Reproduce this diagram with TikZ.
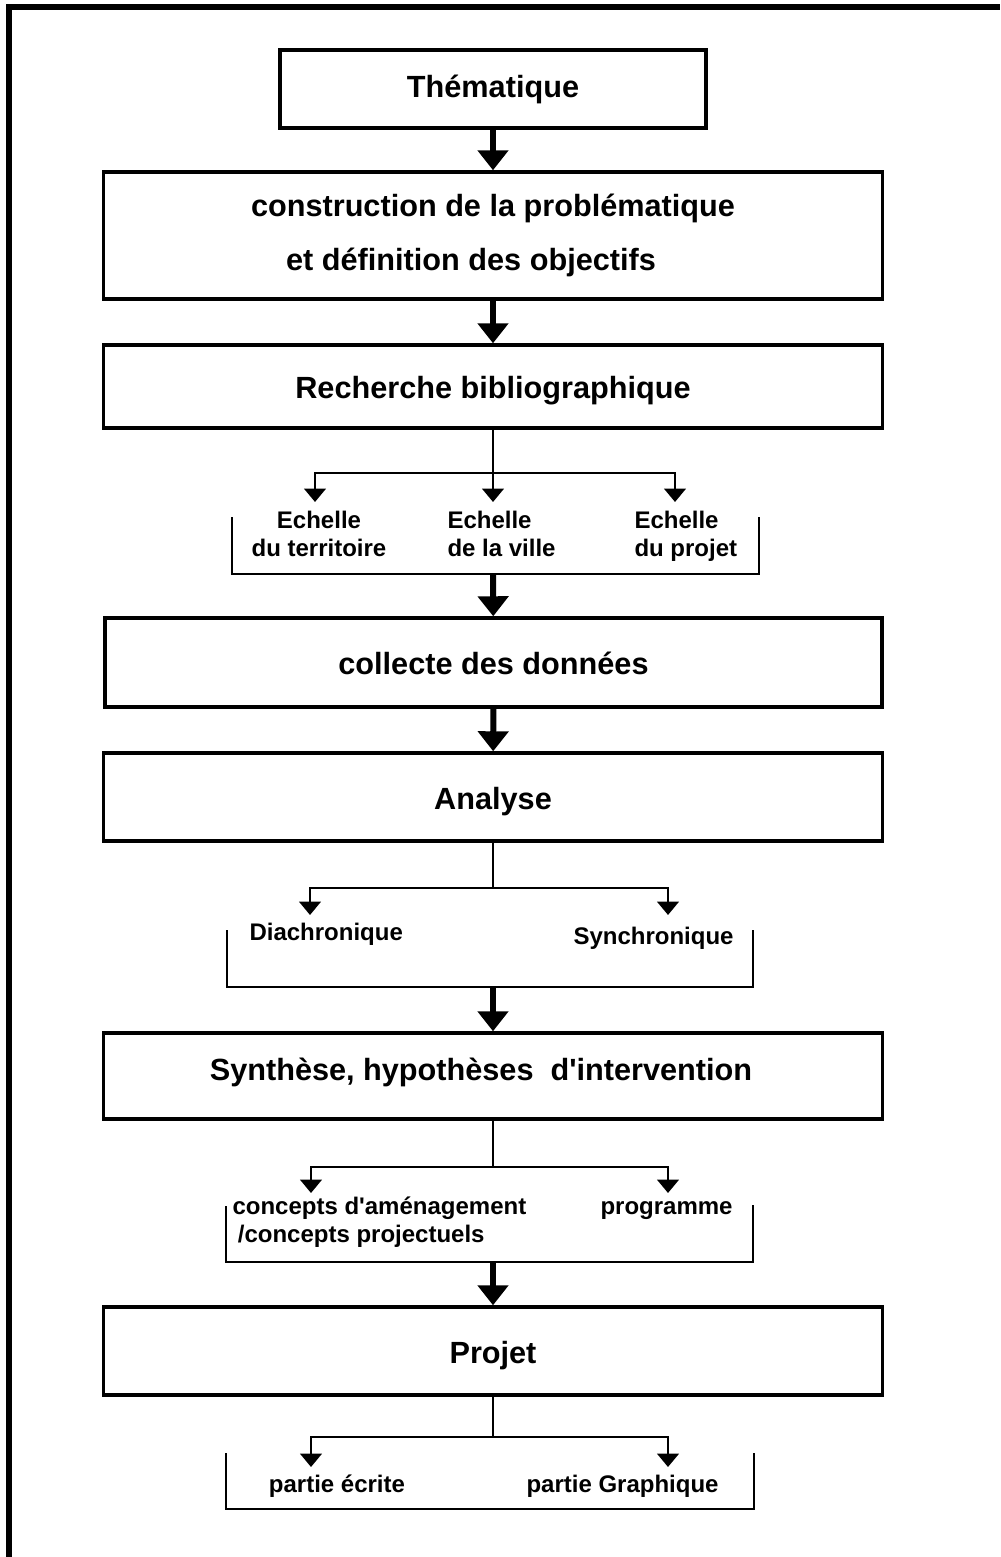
\documentclass[tikz,border=0pt]{standalone}
\usepackage{fontspec}
\setmainfont{Liberation Sans}
\usetikzlibrary{arrows.meta}

\tikzset{every picture/.style={line width=0.75pt}}

\begin{document}
\begin{tikzpicture}[x=0.75pt,y=0.75pt,yscale=-1,xscale=1,scale=1, every node/.style={scale=1},
  stage/.style={draw, line width=2.6pt, minimum width=584.25pt, inner sep=0pt, align=center, font=\fontsize{23}{40}\selectfont\bfseries},
  oneline/.style={text height=20pt, text depth=2pt},
  sub/.style={inner sep=0pt, font=\fontsize{18}{21}\selectfont\bfseries},
  flow/.style={line width=4.5pt, -{Triangle[length=15pt,width=22.5pt]}},
  branch/.style={line width=2.2pt, -{Triangle[length=10pt,width=16pt]}},
  bracket/.style={line width=2pt}]
\useasboundingbox (0,0) rectangle (1000,1557);

%Straight Lines: frame
\draw [line width=4.5pt]  (9,1557) -- (9,7) -- (1000,7) ;

%Shape: Rectangle
\node [stage, text height=17pt, text depth=5pt, minimum width=319.5pt, minimum height=58.5pt] (theme) at (493,89) {Thématique};
%Shape: Rectangle
\node [stage, minimum height=95.25pt] (prob) at (493,235.5) {construction de la problématique\\et définition des objectifs\hspace*{33pt}};
%Shape: Rectangle
\node [stage, oneline, minimum height=62.25pt] (biblio) at (493,386.5) {Recherche bibliographique};
%Shape: Rectangle
\node [stage, oneline, minimum width=582.75pt, minimum height=66.75pt] (collecte) at (493.5,662.5) {collecte des données};
%Shape: Rectangle
\node [stage, oneline, minimum height=66pt] (analyse) at (493,797) {Analyse};
%Shape: Rectangle
\node [stage, text height=14pt, text depth=8pt, minimum height=64.5pt] (synth) at (493,1076) {Synthèse, hypothèses~ d\textquotesingle intervention\hspace*{18pt}};
%Shape: Rectangle
\node [stage, oneline, minimum height=66pt] (projet) at (493,1351) {Projet};

%Straight Lines
\draw [flow]  (theme) -- (prob) ;
\draw [flow]  (prob) -- (biblio) ;

% Text Node
\node [sub, align=center, anchor=north] (terr) at (319,511) {Echelle\\du territoire};
% Text Node
\node [sub, align=left, anchor=north west] (ville) at (447,511) {Echelle\\de la ville};
% Text Node
\node [sub, align=left, anchor=north west] (echproj) at (634,511) {Echelle\\du projet};

\coordinate (j1) at (493,473);
\coordinate (a11) at (315,502);
\coordinate (a12) at (493,502);
\coordinate (a13) at (675,502);
\coordinate (g1) at (493,574);
%Straight Lines
\draw [line width=2.2pt]  (biblio) -- (j1) ;
\draw [branch]  (j1) -| (a11) ;
\draw [branch]  (j1) -- (a12) ;
\draw [branch]  (j1) -| (a13) ;
\draw [bracket]  (232,517) |- (759,574) -- (759,517) ;
\draw [flow]  (g1) -- (collecte) ;

\draw [flow]  (collecte) -- (analyse) ;

% Text Node
\node [sub, anchor=west] (diachro) at (249,934) {Diachronique};
% Text Node
\node [sub, anchor=west] (synchro) at (573,938) {Synchronique};

\coordinate (j2) at (493,888);
\coordinate (a21) at (310,915);
\coordinate (a22) at (668,915);
\coordinate (g2) at (493,987);
%Straight Lines
\draw [line width=2.2pt]  (analyse) -- (j2) ;
\draw [branch]  (j2) -| (a21) ;
\draw [branch]  (j2) -| (a22) ;
\draw [bracket]  (227,930) |- (753,987) -- (753,930) ;
\draw [flow]  (g2) -- (synth) ;

% Text Node
\node [sub, align=left, anchor=west] (concepts) at (232,1222) {concepts d\textquotesingle aménagement\\\hspace{4pt}/concepts projectuels};
% Text Node
\node [sub, anchor=west] (progr) at (600,1211) {programme};

\coordinate (j3) at (493,1167);
\coordinate (a31) at (311,1193);
\coordinate (a32) at (668,1193);
\coordinate (g3) at (493,1262);
%Straight Lines
\draw [line width=2.2pt]  (synth) -- (j3) ;
\draw [branch]  (j3) -| (a31) ;
\draw [branch]  (j3) -| (a32) ;
\draw [bracket]  (226,1206) |- (753,1262) -- (753,1205) ;
\draw [flow]  (g3) -- (projet) ;

% Text Node
\node [sub] (ecrite) at (337,1486) {partie écrite};
% Text Node
\node [sub, anchor=west] (graph) at (526,1486) {partie Graphique};

\coordinate (j4) at (493,1437);
\coordinate (a41) at (311,1467);
\coordinate (a42) at (668,1467);
%Straight Lines
\draw [line width=2.2pt]  (projet) -- (j4) ;
\draw [branch]  (j4) -| (a41) ;
\draw [branch]  (j4) -| (a42) ;
\draw [bracket]  (226,1453) |- (754,1509) -- (754,1453) ;

\end{tikzpicture}
\end{document}
